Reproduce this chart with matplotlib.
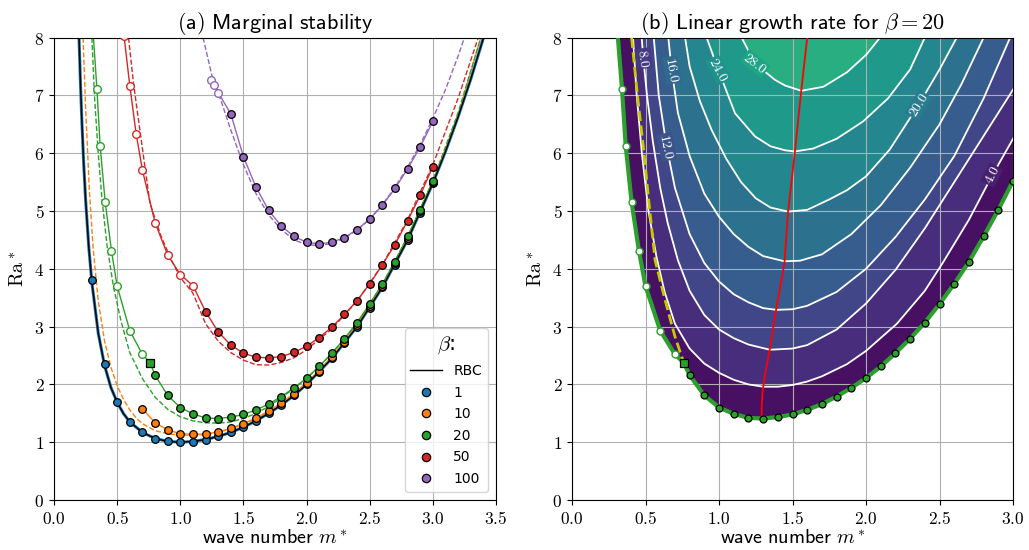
import numpy as np
import matplotlib
matplotlib.use("Agg")
import matplotlib.pyplot as plt
from matplotlib.lines import Line2D
from matplotlib.ticker import FuncFormatter, MultipleLocator

plt.rcParams["mathtext.fontset"] = "cm"

blue, orange, green, red, purple = "#1f77b4", "#ff7f0e", "#2ca02c", "#d62728", "#9467bd"

# ---------------- panel (a) data ----------------
rbc_m = [0.198, 0.21, 0.22, 0.235, 0.25, 0.275, 0.3, 0.35, 0.4, 0.45, 0.5, 0.55, 0.6, 0.7, 0.8, 0.9,
         1.0, 1.1, 1.2, 1.3, 1.4, 1.5, 1.6, 1.7, 1.8, 1.9, 2.0, 2.2, 2.4, 2.6, 2.8, 3.0, 3.1, 3.2, 3.3, 3.4]
rbc_ra = [8.0, 7.17, 6.58, 5.82, 5.2, 4.38, 3.76, 2.89, 2.33, 1.95, 1.69, 1.495, 1.35, 1.17, 1.065, 1.015,
          1.0, 1.013, 1.047, 1.10, 1.17, 1.26, 1.37, 1.50, 1.645, 1.81, 2.0, 2.45, 3.0, 3.68, 4.5, 5.48, 6.03, 6.63, 7.28, 7.99]

m_grid = [0.8, 0.9, 1.0, 1.1, 1.2, 1.3, 1.4, 1.5, 1.6, 1.7, 1.8, 1.9, 2.0, 2.1, 2.2, 2.3, 2.4, 2.5, 2.6, 2.7, 2.8, 2.9, 3.0]

b1_m = [0.3, 0.4, 0.5, 0.6, 0.7] + m_grid
b1_ra = [3.8, 2.35, 1.70, 1.355, 1.17, 1.06, 1.015, 1.0, 1.01, 1.045, 1.10, 1.17, 1.26, 1.37, 1.50, 1.645,
         1.81, 2.0, 2.21, 2.45, 2.71, 3.0, 3.33, 3.68, 4.07, 4.5, 4.97, 5.48]

b10_m = [0.7] + m_grid
b10_ra = [1.575, 1.34, 1.21, 1.15, 1.135, 1.14, 1.18, 1.24, 1.32, 1.42, 1.54, 1.68, 1.84, 2.03, 2.24, 2.48,
          2.74, 3.03, 3.36, 3.71, 4.10, 4.53, 5.0, 5.5]
b10_dash_m = [0.23, 0.25, 0.28, 0.31, 0.35, 0.4, 0.45, 0.5, 0.55, 0.6, 0.65, 0.7, 0.8, 0.9, 1.0, 1.1, 1.2, 1.3,
              1.4, 1.5, 1.6, 1.7, 1.8, 1.9, 2.0, 2.2, 2.4, 2.6, 2.8, 3.0, 3.2, 3.38]
b10_dash_ra = [8.0, 6.8, 5.35, 4.35, 3.45, 2.75, 2.3, 1.98, 1.74, 1.56, 1.42, 1.32, 1.2, 1.145, 1.125, 1.12, 1.135,
               1.17, 1.23, 1.31, 1.41, 1.53, 1.67, 1.83, 2.02, 2.46, 3.02, 3.69, 4.51, 5.49, 6.65, 8.0]

b20_open_m = [0.34, 0.365, 0.405, 0.455, 0.5, 0.6, 0.7]
b20_open_ra = [7.11, 6.13, 5.16, 4.31, 3.70, 2.93, 2.52]
b20_sq_m, b20_sq_ra = [0.76], [2.375]
b20_m = m_grid
b20_ra = [2.16, 1.81, 1.60, 1.49, 1.42, 1.41, 1.435, 1.48, 1.56, 1.66, 1.79, 1.94, 2.11, 2.31, 2.54, 2.79,
          3.07, 3.39, 3.74, 4.12, 4.56, 5.02, 5.52]
b20_top_m, b20_top_ra = [0.312], [8.0]
b20_dash_m = [0.3, 0.32, 0.35, 0.38, 0.42, 0.47, 0.53, 0.6, 0.7, 0.8, 0.9, 1.0, 1.1, 1.2, 1.3, 1.4, 1.5, 1.6,
              1.7, 1.8, 1.9, 2.0, 2.2, 2.4, 2.6, 2.8, 3.0, 3.2, 3.38]
b20_dash_ra = [8.0, 7.0, 6.0, 5.2, 4.4, 3.7, 3.1, 2.55, 2.1, 1.78, 1.57, 1.44, 1.37, 1.335, 1.33, 1.35, 1.41,
               1.5, 1.62, 1.77, 1.93, 2.1, 2.53, 3.06, 3.73, 4.55, 5.52, 6.7, 8.0]

b50_open_m = [0.555, 0.6, 0.65, 0.7, 0.8, 0.9, 1.0, 1.1]
b50_open_ra = [8.02, 7.17, 6.34, 5.71, 4.80, 4.24, 3.90, 3.71]
b50_m = m_grid[4:]
b50_ra = [3.26, 2.91, 2.68, 2.54, 2.47, 2.46, 2.48, 2.555, 2.66, 2.81, 2.99, 3.21, 3.45, 3.74, 4.07, 4.42,
          4.83, 5.27, 5.77]
b50_dash_m = [0.59, 0.63, 0.68, 0.76, 0.85, 0.93, 1.0, 1.1, 1.2, 1.3, 1.4, 1.5, 1.6, 1.7, 1.8, 1.9, 2.0,
              2.2, 2.4, 2.6, 2.8, 3.0, 3.2, 3.36]
b50_dash_ra = [8.0, 7.2, 6.4, 5.13, 4.55, 4.15, 3.85, 3.58, 3.05, 2.75, 2.55, 2.42, 2.34, 2.335, 2.38, 2.46,
               2.6, 2.96, 3.44, 4.07, 4.85, 5.8, 6.95, 8.0]

b100_open_m = [1.245, 1.265, 1.3]
b100_open_ra = [7.27, 7.18, 7.05]
b100_m = m_grid[6:]
b100_ra = [6.68, 5.94, 5.41, 5.01, 4.74, 4.56, 4.46, 4.43, 4.46, 4.54, 4.68, 4.86, 5.10, 5.39, 5.73, 6.11, 6.55]
b100_dash_m = [1.18, 1.25, 1.33, 1.4, 1.5, 1.6, 1.7, 1.8, 1.9, 2.0, 2.1, 2.2, 2.3, 2.4, 2.5, 2.6, 2.7, 2.8,
               2.9, 3.0, 3.1, 3.2, 3.25]
b100_dash_ra = [8.0, 7.35, 6.86, 6.4, 5.8, 5.3, 4.93, 4.68, 4.5, 4.42, 4.4, 4.44, 4.53, 4.67, 4.86, 5.11,
                5.41, 5.76, 6.15, 6.6, 7.1, 7.68, 8.0]

# ---------------- panel (b) data: growth-rate contours for beta = 20 ----------------
levels = [0, 4, 8, 12, 16, 20, 24, 28]
c0_m = b20_top_m + b20_open_m + b20_sq_m + b20_m
c0_ra = b20_top_ra + b20_open_ra + b20_sq_ra + b20_ra
c4_m = [0.415, 0.44, 0.475, 0.52, 0.575, 0.63, 0.7, 0.8, 0.9, 1.0, 1.1, 1.2, 1.3, 1.4, 1.5, 1.6, 1.7, 1.87,
        2.0, 2.21, 2.4, 2.526, 2.7, 2.855, 3.0, 3.1]
c4_ra = [8.0, 7.0, 6.0, 5.0, 4.2, 3.6, 3.05, 2.62, 2.36, 2.2, 2.08, 2.0, 1.96, 1.96, 1.99, 2.05, 2.14, 2.35,
         2.58, 3.05, 3.62, 4.12, 4.85, 5.6, 6.25, 6.7]
c8_m = [0.474, 0.485, 0.51, 0.55, 0.6, 0.65, 0.72, 0.8, 0.9, 1.0, 1.1, 1.2, 1.345, 1.5, 1.6, 1.8, 2.0, 2.2,
        2.4, 2.6, 2.8, 3.0, 3.1]
c8_ra = [8.0, 7.64, 7.0, 6.2, 5.4, 4.8, 4.15, 3.62, 3.2, 2.95, 2.8, 2.69, 2.6, 2.62, 2.68, 2.95, 3.4, 3.98,
         4.7, 5.5, 6.3, 7.1, 7.55]
c12_m = [0.556, 0.59, 0.644, 0.7, 0.8, 0.9, 1.0, 1.1, 1.2, 1.3, 1.39, 1.5, 1.6, 1.8, 2.0, 2.2, 2.4, 2.6, 2.8, 2.98]
c12_ra = [8.0, 7.0, 6.11, 5.4, 4.6, 4.1, 3.78, 3.56, 3.42, 3.32, 3.29, 3.3, 3.36, 3.6, 4.0, 4.55, 5.2, 5.95,
          6.95, 8.0]
c16_m = [0.655, 0.678, 0.72, 0.8, 0.9, 1.0, 1.1, 1.2, 1.3, 1.445, 1.55, 1.7, 1.9, 2.1, 2.3, 2.5, 2.65, 2.8]
c16_ra = [8.0, 7.44, 6.7, 5.95, 5.3, 4.9, 4.6, 4.38, 4.22, 4.13, 4.14, 4.25, 4.6, 5.1, 5.75, 6.5, 7.2, 8.0]
c20_m = [0.769, 0.8, 0.87, 0.95, 1.05, 1.15, 1.25, 1.35, 1.47, 1.6, 1.75, 1.87, 2.0, 2.16, 2.356, 2.5, 2.617]
c20_ra = [8.0, 7.5, 6.9, 6.4, 5.9, 5.5, 5.22, 5.06, 4.99, 5.02, 5.2, 5.36, 5.6, 6.06, 6.83, 7.45, 8.0]
c24_m = [0.916, 0.995, 1.109, 1.245, 1.35, 1.45, 1.515, 1.64, 1.8, 1.98, 2.15, 2.3, 2.4]
c24_ra = [8.0, 7.44, 6.69, 6.29, 6.12, 6.05, 6.03, 6.08, 6.25, 6.55, 6.95, 7.45, 8.0]
c28_m = [1.154, 1.245, 1.38, 1.45, 1.56, 1.71, 1.87, 2.0, 2.095]
c28_ra = [8.0, 7.55, 7.27, 7.17, 7.08, 7.15, 7.4, 7.7, 8.0]

# contour label (level, m, Ra, rotation)
label_level = [8, 16, 12, 24, 28, 20, 4]
label_m = [0.485, 0.678, 0.644, 0.995, 1.245, 2.356, 2.855]
label_ra = [7.64, 7.44, 6.11, 7.44, 7.55, 6.83, 5.62]
label_rot = [-82, -80, -78, -62, -38, 58, 62]

yellow_m = [0.405, 0.445, 0.485, 0.525, 0.565, 0.633, 0.70, 0.76]
yellow_ra = [8.0, 7.0, 6.11, 5.1, 4.15, 3.46, 2.83, 2.375]
maxgr_m = [1.29, 1.29, 1.295, 1.31, 1.345, 1.38, 1.41, 1.445, 1.47, 1.515, 1.56, 1.60]
maxgr_ra = [1.41, 1.6, 1.85, 2.13, 2.6, 3.17, 3.6, 4.1, 5.0, 6.0, 7.1, 8.0]

# ---------------- figure ----------------
fig = plt.figure(figsize=(10.29, 5.5), dpi=100)
ax1 = fig.add_axes([0.0525, 0.0909, 0.4295, 0.8407])
ax2 = fig.add_axes([0.5559, 0.0909, 0.4286, 0.8407])

fx = FuncFormatter(lambda v, p: f"${v:.1f}$")
fy = FuncFormatter(lambda v, p: f"${v:.0f}$")
for ax in (ax1, ax2):
    ax.set_ylim(0, 8)
    ax.xaxis.set_major_locator(MultipleLocator(0.5))
    ax.yaxis.set_major_locator(MultipleLocator(1))
    ax.xaxis.set_major_formatter(fx)
    ax.yaxis.set_major_formatter(fy)
    ax.tick_params(labelsize=12.5)
    ax.grid(True)
    ax.set_axisbelow(True)
    ax.set_xlabel(r"$\mathsf{wave\ number}\ m^*$", fontsize=14.5, labelpad=1)
    ax.set_ylabel(r"$\mathrm{Ra}^*$", fontsize=14.5, labelpad=4)
ax1.set_xlim(0, 3.5)
ax2.set_xlim(0, 3.0)

# panel (a)
mk = dict(ls="none", marker="o", ms=5.5, mec="k", mew=0.9, zorder=4)
ok = dict(ls="none", marker="o", ms=5.5, mfc="white", mew=1.0, zorder=4)
ax1.plot(rbc_m, rbc_ra, color=blue, lw=2.2, zorder=2)
ax1.plot(b10_dash_m, b10_dash_ra, "--", color=orange, lw=1)
ax1.plot(b20_dash_m, b20_dash_ra, "--", color=green, lw=1)
ax1.plot(b50_dash_m, b50_dash_ra, "--", color=red, lw=1)
ax1.plot(b100_dash_m, b100_dash_ra, "--", color=purple, lw=1)
ax1.plot(b10_m, b10_ra, color=orange, lw=1)
ax1.plot(b20_top_m + b20_open_m + b20_sq_m + b20_m, b20_top_ra + b20_open_ra + b20_sq_ra + b20_ra, color=green, lw=1)
ax1.plot(b50_open_m + b50_m, b50_open_ra + b50_ra, color=red, lw=1)
ax1.plot(b100_open_m + b100_m, b100_open_ra + b100_ra, color=purple, lw=1)
ax1.plot(rbc_m, rbc_ra, color="k", lw=1, zorder=3)
ax1.plot(b1_m, b1_ra, mfc=blue, **mk)
ax1.plot(b10_m, b10_ra, mfc=orange, **mk)
ax1.plot(b20_m, b20_ra, mfc=green, **mk)
ax1.plot(b20_open_m, b20_open_ra, mec=green, **ok)
ax1.plot(b20_sq_m, b20_sq_ra, ls="none", marker="s", ms=6, mfc=green, mec="k", mew=0.9, zorder=5)
ax1.plot(b50_m, b50_ra, mfc=red, **mk)
ax1.plot(b50_open_m, b50_open_ra, mec=red, **ok)
ax1.plot(b100_m, b100_ra, mfc=purple, **mk)
ax1.plot(b100_open_m, b100_open_ra, mec=purple, **ok)
ax1.set_title(r"$\mathsf{(a)\ Marginal\ stability}$", fontsize=16)

handles = [Line2D([], [], color="k", lw=1)]
handles += [Line2D([], [], ls="none", marker="o", ms=6, mfc=c, mec="k", mew=0.9)
            for c in (blue, orange, green, red, purple)]
ax1.legend(handles, ["RBC", "1", "10", "20", "50", "100"], loc="lower right", title=r"$\beta$:",
           title_fontsize=15, fontsize=10, handlelength=2.3, labelspacing=0.55, borderaxespad=0.6)

# panel (b)
cmap = plt.get_cmap("viridis")
vmax = 48.0
curves = [(c0_m, c0_ra), (c4_m, c4_ra), (c8_m, c8_ra), (c12_m, c12_ra), (c16_m, c16_ra),
          (c20_m, c20_ra), (c24_m, c24_ra), (c28_m, c28_ra)]
for lev, (cm_, cr_) in zip(levels, curves):
    pm, pr = list(cm_), list(cr_)
    if pr[-1] < 8:
        pm += [3.6, 3.6]
        pr += [pr[-1], 9.0]
    else:
        pm += [pm[-1]]
        pr += [9.0]
    pm += [cm_[0]]
    pr += [9.0]
    ax2.fill(pm, pr, color=cmap((lev + 2) / vmax), lw=0, zorder=0.2)
    if lev > 0:
        ax2.plot(cm_, cr_, color="white", lw=1.3, zorder=1)

for lev, lm, lr, rot in zip(label_level, label_m, label_ra, label_rot):
    ax2.text(lm, lr, f"${lev:.1f}$", color="white", fontsize=10, rotation=rot, ha="center", va="center",
             rotation_mode="anchor", zorder=1.5,
             bbox=dict(boxstyle="square,pad=0.05", fc=cmap(lev / vmax), ec="none"))

ax2.plot(c0_m, c0_ra, color=green, lw=3, zorder=3)
ax2.plot(yellow_m, yellow_ra, "--", color="#c8c800", lw=2, zorder=3)
ax2.plot(maxgr_m, maxgr_ra, color="red", lw=1.3, zorder=3)
ax2.plot(b20_m, b20_ra, ls="none", marker="o", ms=5, mfc=green, mec="k", mew=0.9, zorder=4)
ax2.plot(b20_open_m, b20_open_ra, ls="none", marker="o", ms=5, mfc="white", mec=green, mew=1.0, zorder=4)
ax2.plot(b20_sq_m, b20_sq_ra, ls="none", marker="s", ms=5.5, mfc=green, mec="k", mew=0.9, zorder=5)
ax2.set_title(r"$\mathsf{(b)\ Linear\ growth\ rate\ for\ }\beta=20$", fontsize=16)

fig.savefig("out.png", dpi=100)
